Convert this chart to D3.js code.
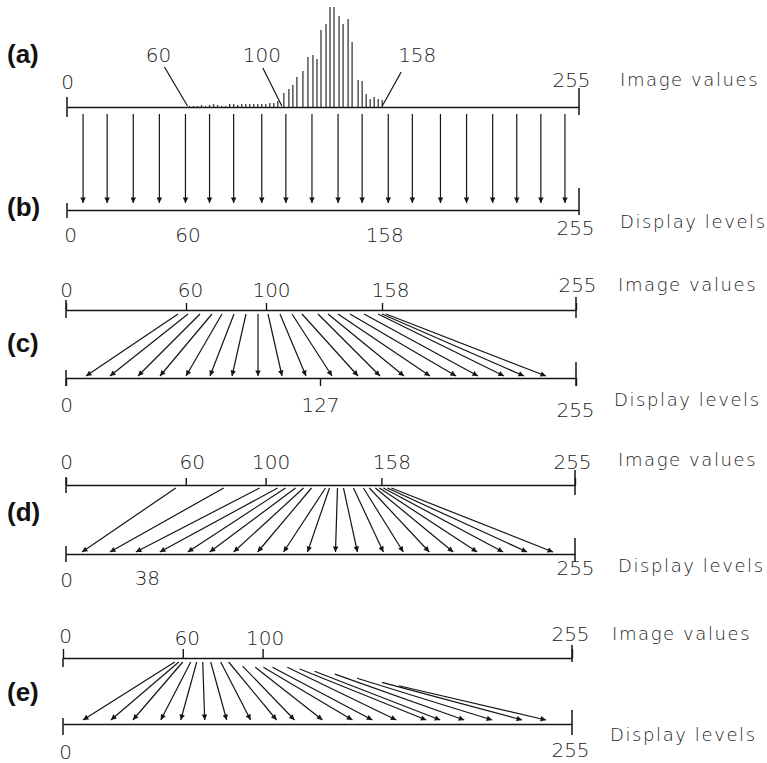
<!DOCTYPE html>
<html><head><meta charset="utf-8">
<script src="https://cdn.jsdelivr.net/npm/d3@7"></script>
<style>
body{margin:0;background:#fff}
svg{display:block}
</style></head><body>
<svg id="chart" width="767" height="763"></svg>
<script>
// ---------------- data ----------------
const panelLabels = ["(a)", "(b)", "(c)", "(d)", "(e)"];
const imageLabel = "Image values";
const displayLabel = "Display levels";

// (a) histogram of image values
const histBins   = [61,63,65,67,69,71,73,75,77,79,81,83,85,87,89,91,93,95,97,99,101,103,105,
                    108,110.5,112.5,114.5,117.5,120,122.5,124.5,126.5,129,131,133,135.5,137.5,140,142,145,147,149,151,153,155,157];
const histCounts = [1,1,1,2,1,2,3,2,1,1,3,3,2,3,3,3,3,3,3,3,4,4,6,
                    14,18,22,30,36,50,52,48,77,83,100,100,91,83,88,65,27,26,13,8,10,8,7];
const aTicks = [0, 255];
const aNoteLabels = ["60", "100", "158"];
const aNoteAt = [60, 107, 157];

// (b) identity mapping
const bLevels = [8,20,33,46,59,71,83,97,109,122,135,147,160,172,186,199,212,224,236,248];
const bTicks = [0, 60, 158, 255];

// (c) linear stretch
const cTopTicks = [0, 60, 100, 158, 255];
const cBotTicks = [0, 127, 255];
const cFrom = [56,61,67,73,78,84,90,96,101,107,113,118,126,131,136,142,149,156,158,160];
const cTo   = [10,22,36,47,60,72,83,96,108,120,133,146,157,169,182,195,206,219,229,240];

// (d) histogram equalization
const dTopTicks = [0, 60, 100, 158, 255];
const dBotTicks = [0, 38, 255];
const dFrom = [55,79,97,106,110,115,119,123,130,132,136,139,144,149,152,155,157,159,161,163];
const dTo   = [8,22,35,47,61,72,84,96,109,121,135,146,159,169,182,194,206,219,231,244];

// (e) special stretch
const eTopTicks = [0, 60, 100, 255];
const eBotTicks = [0, 255];
const eFrom = [56,58,60,64,67,70,74,79,83,88,93,96,100,107,110,114,119,121,122,117];
const eTo   = [10,24,35,49,59,71,82,94,107,116,130,145,155,167,182,189,201,215,230,242];
const eLead = [0,0,0,0,0,0,0,0,0,0.07,0.09,0.09,0.09,0.09,0.12,0.16,0.21,0.28,0.35,0.41];

// ---------------- drawing ----------------
const svg = d3.select("#chart");
const INK = "#151515";
const NUMFONT = '"DejaVu Sans", sans-serif';

svg.append("rect").attr("width", 767).attr("height", 763).attr("fill", "#fff");

const defs = svg.append("defs");
defs.append("marker").attr("id", "ah")
  .attr("viewBox", "0 0 10 10").attr("refX", 10).attr("refY", 5)
  .attr("markerUnits", "userSpaceOnUse")
  .attr("markerWidth", 8).attr("markerHeight", 5.5)
  .attr("orient", "auto")
  .append("path").attr("d", "M0,0 L10,5 L0,10 z").attr("fill", INK);

function styleAxis(g, fs) {
  g.attr("font-family", NUMFONT).attr("font-size", fs || 20);
  g.select(".domain").attr("stroke", INK).attr("stroke-width", 1.5);
  g.selectAll(".tick line").attr("stroke", INK).attr("stroke-width", 1.4);
  g.selectAll(".tick text").attr("fill", "#222").attr("font-weight", 200);
}
function endTick(x, y1, y2) {
  svg.append("line").attr("x1", x).attr("x2", x).attr("y1", y1).attr("y2", y2)
    .attr("stroke", INK).attr("stroke-width", 1.5);
}
function sideText(txt, x, y) {
  svg.append("text").attr("x", x).attr("y", y).attr("dy", "0.35em")
    .attr("font-family", NUMFONT).attr("font-size", 18).attr("font-weight", 200)
    .attr("letter-spacing", 1.6).attr("fill", "#222").text(txt);
}
function panelText(txt, y) {
  svg.append("text").attr("x", 7).attr("y", y).attr("dy", "0.36em")
    .attr("font-family", '"Liberation Sans", Arial, sans-serif').attr("font-weight", "bold")
    .attr("font-size", 26).attr("fill", "#111").text(txt);
}
function shiftLabel(g, value, dx, dy) {
  g.selectAll(".tick").filter(d => d === value).select("text")
    .attr("transform", `translate(${dx},${dy})`);
}
function arrows(fromScale, toScale, from, to, yTop, yBot, lead) {
  const data = from.map((f, i) => ({f, t: to[i], l: lead ? lead[i] : 0}));
  svg.append("g").selectAll("line").data(data).join("line")
    .attr("x1", d => fromScale(d.f) + d.l * (toScale(d.t) - fromScale(d.f)))
    .attr("y1", d => yTop + d.l * (yBot - yTop))
    .attr("x2", d => toScale(d.t))
    .attr("y2", yBot)
    .attr("stroke", INK).attr("stroke-width", 1.2)
    .attr("marker-end", "url(#ah)");
}

// ---- panel (a) ----
const xa = d3.scaleLinear().domain([0, 255]).range([67, 579]);
const yh = d3.scaleLinear().domain([0, 100]).range([107, 7]);
svg.append("g").selectAll("line").data(histBins.map((b, i) => ({b, c: histCounts[i]})))
  .join("line")
  .attr("x1", d => xa(d.b)).attr("x2", d => xa(d.b))
  .attr("y1", yh(0)).attr("y2", d => yh(d.c))
  .attr("stroke", "#3a3a3a").attr("stroke-width", 1.3);
const gA = svg.append("g").attr("transform", "translate(0,107)")
  .call(d3.axisTop(xa).tickValues(aTicks).tickSize(0).tickPadding(18).tickSizeOuter(0));
styleAxis(gA);
shiftLabel(gA, 255, -8, -2);
endTick(xa(0), 97, 117);
endTick(xa(255), 88, 115);
sideText(imageLabel, 620, 80);
panelText(panelLabels[0], 54);
// annotation leaders
const noteLayout = [{lx: -29, sx: -23, sy: 67}, {lx: -20, sx: -19, sy: 68}, {lx: 35, sx: 19, sy: 72}];
aNoteAt.forEach((v, i) => {
  const L = noteLayout[i];
  svg.append("line").attr("x1", xa(v) + L.sx).attr("y1", L.sy).attr("x2", xa(v)).attr("y2", 106)
    .attr("stroke", INK).attr("stroke-width", 1.2);
  svg.append("text").attr("x", xa(v) + L.lx).attr("y", 55).attr("dy", "0.35em")
    .attr("text-anchor", "middle").attr("font-family", NUMFONT).attr("font-size", 20)
    .attr("font-weight", 200).attr("fill", "#222").text(aNoteLabels[i]);
});

// ---- panel (b) ----
svg.append("g").selectAll("line").data(bLevels).join("line")
  .attr("x1", d => xa(d)).attr("x2", d => xa(d)).attr("y1", 114).attr("y2", 203)
  .attr("stroke", INK).attr("stroke-width", 1.2).attr("marker-end", "url(#ah)");
const gB = svg.append("g").attr("transform", "translate(0,210)")
  .call(d3.axisBottom(xa).tickValues(bTicks).tickSize(0).tickPadding(18).tickSizeOuter(0));
styleAxis(gB);
shiftLabel(gB, 255, -4, -7);
shiftLabel(gB, 0, 3, 0);
endTick(xa(0), 203, 218);
endTick(xa(255), 188, 215);
sideText(displayLabel, 620, 222);
panelText(panelLabels[1], 207);

// ---- panel (c) ----
const xc = d3.scaleLinear().domain([0, 255]).range([66, 576]);
arrows(xc, xc, cFrom, cTo, 314, 376);
const gCt = svg.append("g").attr("transform", "translate(0,310)")
  .call(d3.axisTop(xc).tickValues(cTopTicks).tickSize(7).tickPadding(6).tickSizeOuter(0));
styleAxis(gCt);
shiftLabel(gCt, 60, 4, 0); shiftLabel(gCt, 100, 5, 0); shiftLabel(gCt, 158, 8, 0);
shiftLabel(gCt, 255, 1, -5);
const gCb = svg.append("g").attr("transform", "translate(0,378)")
  .call(d3.axisBottom(xc).tickValues(cBotTicks).tickSize(8).tickPadding(12).tickSizeOuter(0));
styleAxis(gCb);
shiftLabel(gCb, 255, -1, 5);
endTick(xc(0), 300, 318); endTick(xc(255), 297, 318);
endTick(xc(0), 370, 386); endTick(xc(255), 362, 386);
sideText(imageLabel, 618, 285);
sideText(displayLabel, 614, 400);
panelText(panelLabels[2], 343);

// ---- panel (d) ----
const xd = d3.scaleLinear().domain([0, 255]).range([66, 575]);
arrows(xd, xd, dFrom, dTo, 488, 552);
const gDt = svg.append("g").attr("transform", "translate(0,485)")
  .call(d3.axisTop(xd).tickValues(dTopTicks).tickSize(7).tickPadding(9).tickSizeOuter(0));
styleAxis(gDt);
shiftLabel(gDt, 60, 6, 0); shiftLabel(gDt, 100, 5, 0); shiftLabel(gDt, 158, 10, 0);
shiftLabel(gDt, 255, -3, 0);
const gDb = svg.append("g").attr("transform", "translate(0,554)")
  .call(d3.axisBottom(xd).tickValues(dBotTicks).tickSize(0).tickPadding(19).tickSizeOuter(0));
styleAxis(gDb);
shiftLabel(gDb, 38, 5, -2);
shiftLabel(gDb, 255, 0, -12);
endTick(xd(0), 477, 493); endTick(xd(255), 470, 495);
endTick(xd(0), 546, 562); endTick(xd(255), 538, 562);
sideText(imageLabel, 618, 460);
sideText(displayLabel, 618, 566);
panelText(panelLabels[3], 512);

// ---- panel (e) ----
const xe = d3.scaleLinear().domain([0, 255]).range([63, 572]);
arrows(xe, xe, eFrom, eTo, 662, 720, eLead);
const gEt = svg.append("g").attr("transform", "translate(0,658)")
  .call(d3.axisTop(xe).tickValues(eTopTicks).tickSize(9).tickPadding(6).tickSizeOuter(0));
styleAxis(gEt);
shiftLabel(gEt, 0, 2, 0);
shiftLabel(gEt, 60, 4, 2); shiftLabel(gEt, 100, 2, 2);
shiftLabel(gEt, 255, -2, -2);
const gEb = svg.append("g").attr("transform", "translate(0,724)")
  .call(d3.axisBottom(xe).tickValues(eBotTicks).tickSize(0).tickPadding(21).tickSizeOuter(0));
styleAxis(gEb);
shiftLabel(gEb, 0, 2, 0); shiftLabel(gEb, 255, -2, -2);
endTick(xe(0), 658, 667); endTick(xe(255), 645, 662);
endTick(xe(0), 718, 735); endTick(xe(255), 710, 735);
sideText(imageLabel, 612, 634);
sideText(displayLabel, 610, 735);
panelText(panelLabels[4], 692);
</script>
</body></html>
